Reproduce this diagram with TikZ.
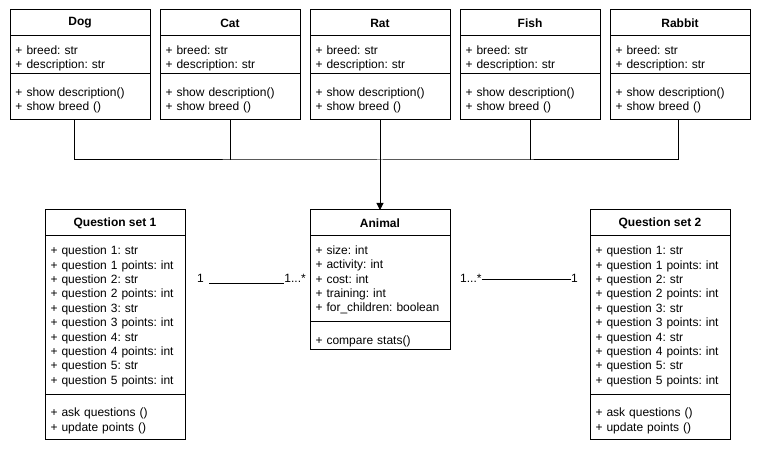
\documentclass[tikz,border=0pt]{standalone}
\usepackage{fontspec}
\setmainfont{Liberation Sans}
\usetikzlibrary{positioning,arrows.meta}
\tikzstyle{arrow} = [-{Triangle[length=7pt,width=7pt]},line width=1pt]
\tikzstyle{link} = [line width=1pt]
\tikzstyle{classname} = [draw,line width=1pt,outer sep=0pt,inner sep=0pt,minimum width=140pt,minimum height=26pt,font=\bfseries]
\tikzstyle{classpart} = [draw,line width=1pt,outer sep=0pt,inner xsep=5.5pt,inner ysep=0pt,text width=129pt,align=left]
\tikzstyle{twoline} = [classpart,text height=15.8pt]
\tikzstyle{mult} = [inner sep=0pt]

\begin{document}
\frenchspacing
\begin{tikzpicture}[x=1pt,y=-1pt]
        \fontsize{12}{14.4}\selectfont
        \useasboundingbox (0,0) rectangle (761,454);

        % the five pets
        \node[classname, anchor=north] at (80,10) (dog) {Dog};
        \node[twoline, below=0pt of dog, minimum height=38pt] (doga) {+ breed: str\\+ description: str};
        \node[twoline, below=0pt of doga, minimum height=46pt] (dogm) {+ show description()\\+ show breed ()};

        \node[classname, anchor=north] at (230,10) (cat) {Cat};
        \node[twoline, below=0pt of cat, minimum height=38pt] (cata) {+ breed: str\\+ description: str};
        \node[twoline, below=0pt of cata, minimum height=46pt] (catm) {+ show description()\\+ show breed ()};

        \node[classname, anchor=north] at (380,10) (rat) {Rat};
        \node[twoline, below=0pt of rat, minimum height=38pt] (rata) {+ breed: str\\+ description: str};
        \node[twoline, below=0pt of rata, minimum height=46pt] (ratm) {+ show description()\\+ show breed ()};

        \node[classname, anchor=north] at (530,10) (fish) {Fish};
        \node[twoline, below=0pt of fish, minimum height=38pt] (fisha) {+ breed: str\\+ description: str};
        \node[twoline, below=0pt of fisha, minimum height=46pt] (fishm) {+ show description()\\+ show breed ()};

        \node[classname, anchor=north] at (680,10) (rabbit) {Rabbit};
        \node[twoline, below=0pt of rabbit, minimum height=38pt] (rabbita) {+ breed: str\\+ description: str};
        \node[twoline, below=0pt of rabbita, minimum height=46pt] (rabbitm) {+ show description()\\+ show breed ()};

        % animal
        \node[classname, anchor=north] at (380,210) (animal) {Animal};
        \node[classpart, below=0pt of animal, minimum height=86pt, text height=10.5pt] (animala) {+ size: int\\+ activity: int\\+ cost: int\\+ training: int\\+ for\_children: boolean};
        \node[classpart, below=0pt of animala, minimum height=28pt, text height=21pt, text depth=3pt] (animalm) {+ compare stats()};

        % question sets
        \node[classname, anchor=north] at (115,210) (qone) {Question set 1};
        \node[classpart, below=0pt of qone, minimum height=159pt, text height=10.5pt] (qonea) {+ question 1: str\\+ question 1 points: int\\+ question 2: str\\+ question 2 points: int\\+ question 3: str\\+ question 3 points: int\\+ question 4: str\\+ question 4 points: int\\+ question 5: str\\+ question 5 points: int};
        \node[twoline, below=0pt of qonea, minimum height=45pt] (qonem) {+ ask questions ()\\+ update points ()};

        \node[classname, anchor=north] at (660,210) (qtwo) {Question set 2};
        \node[classpart, below=0pt of qtwo, minimum height=159pt, text height=10.5pt] (qtwoa) {+ question 1: str\\+ question 1 points: int\\+ question 2: str\\+ question 2 points: int\\+ question 3: str\\+ question 3 points: int\\+ question 4: str\\+ question 4 points: int\\+ question 5: str\\+ question 5 points: int};
        \node[twoline, below=0pt of qtwoa, minimum height=45pt] (qtwom) {+ ask questions ()\\+ update points ()};

        % multiplicities
        \node[mult, anchor=base west] at (197,283) (onel) {1};
        \node[mult, anchor=base east] at (306,283) (manyl) {1...*};
        \node[mult, anchor=base west] at (460,283) (manyr) {1...*};
        \node[mult, anchor=base east] at (578,283) (oner) {1};

        % inheritance
        \coordinate (bus) at (380,160);
        \draw[link] ([xshift=-5.5pt]dogm.south) |- (bus) -| ([xshift=-2pt]rabbitm.south);
        \draw[link] (catm.south) -- (catm.south |- bus);
        \draw[link] (fishm.south) -- (fishm.south |- bus);
        \draw[arrow] (ratm.south) -- (animal.north);

        % associations
        \draw[link] ([xshift=5pt,yshift=-1pt]onel.base east) -- ([yshift=-1pt]manyl.base west);
        \draw[link] ([yshift=3pt]manyr.base east) -- ([yshift=3pt]oner.base west);
    \end{tikzpicture}
\end{document}
